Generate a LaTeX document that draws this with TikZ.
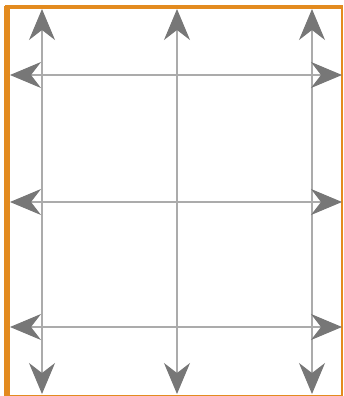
\documentclass[tikz,border=0pt]{standalone}
\usetikzlibrary{arrows.meta}
\definecolor{frameorange}{HTML}{E38B1F}
\definecolor{gridgray}{HTML}{ABABAB}
\definecolor{tipgray}{HTML}{777777}
\tikzset{
  gridline/.style={draw=gridgray,line width=0.6pt,
    arrows={Stealth[length=0.62cm,width=0.52cm,inset=0.2cm,color=tipgray]-Stealth[length=0.62cm,width=0.52cm,inset=0.2cm,color=tipgray]}}
}
\begin{document}
\begin{tikzpicture}[x=0.02cm,y=-0.02cm]
\useasboundingbox (0,0) rectangle (343,396);
% frame
\draw[frameorange,line width=3pt] (7,396) -- (7,6);
\draw[frameorange,line width=2.2pt] (5,7) -- (343,7);
\draw[frameorange,line width=0.8pt] (342.2,7) -- (342.2,395.3) -- (7,395.3);
% end points
\coordinate (t1) at (42,9);   \coordinate (b1) at (42,394);
\coordinate (t2) at (177,9);  \coordinate (b2) at (177,394);
\coordinate (t3) at (312,9);  \coordinate (b3) at (312,394);
\coordinate (l1) at (10,75);  \coordinate (r1) at (342,75);
\coordinate (l2) at (10,202); \coordinate (r2) at (342,202);
\coordinate (l3) at (10,327); \coordinate (r3) at (342,327);
% grid
\draw[gridline] (t1) -- (b1);
\draw[gridline] (t2) -- (b2);
\draw[gridline] (t3) -- (b3);
\draw[gridline] (l1) -- (r1);
\draw[gridline] (l2) -- (r2);
\draw[gridline] (l3) -- (r3);
\end{tikzpicture}
\end{document}
